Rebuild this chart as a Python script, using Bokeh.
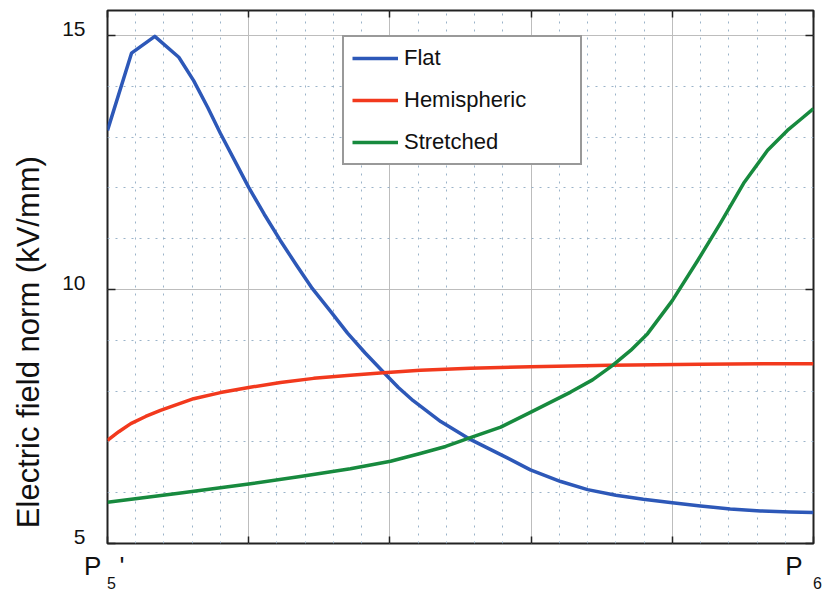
from bokeh.plotting import figure
from bokeh.models import (Range1d, FixedTicker, LinearAxis, Legend, LegendItem)
from bokeh.embed import file_html
from bokeh.resources import INLINE

# ---- data (x: fraction of the path from P5' to P6) ----
flat_x = [0.000, 0.034, 0.067, 0.101, 0.122, 0.142, 0.160, 0.180, 0.200, 0.222,
          0.245, 0.268, 0.290, 0.316, 0.340, 0.365, 0.391, 0.412, 0.433, 0.472,
          0.511, 0.557, 0.599, 0.642, 0.680, 0.720, 0.759, 0.800, 0.840, 0.882,
          0.925, 0.967, 1.000]
flat_y = [13.13, 14.65, 14.98, 14.57, 14.11, 13.58, 13.07, 12.54, 12.01, 11.48,
          10.96, 10.47, 10.02, 9.57, 9.14, 8.75, 8.37, 8.07, 7.81, 7.40,
          7.07, 6.75, 6.45, 6.22, 6.06, 5.95, 5.87, 5.80, 5.74, 5.68,
          5.64, 5.62, 5.61]

hemi_x = [0.000, 0.016, 0.033, 0.054, 0.075, 0.122, 0.160, 0.200, 0.245, 0.292,
          0.344, 0.391, 0.443, 0.514, 0.599, 0.712, 0.840, 1.000]
hemi_y = [7.03, 7.20, 7.36, 7.50, 7.62, 7.85, 7.97, 8.07, 8.17, 8.25,
          8.31, 8.36, 8.41, 8.45, 8.48, 8.51, 8.53, 8.54]

str_x = [0.000, 0.101, 0.200, 0.273, 0.344, 0.401, 0.443, 0.479, 0.511, 0.557,
         0.599, 0.656, 0.687, 0.715, 0.741, 0.765, 0.800, 0.836, 0.868, 0.901,
         0.935, 0.963, 0.982, 1.000]
str_y = [5.81, 5.99, 6.17, 6.32, 6.47, 6.62, 6.77, 6.91, 7.07, 7.29,
         7.58, 7.98, 8.22, 8.50, 8.80, 9.13, 9.78, 10.57, 11.30, 12.09,
         12.74, 13.13, 13.35, 13.56]

series_names = ["Flat", "Hemispheric", "Stretched"]
series_colors = ["#2D58B8", "#F2391D", "#178A3E"]

y_major = [5, 10, 15]
y_minor = [6, 7, 8, 9, 11, 12, 13, 14]
x_major = [0.0, 0.2, 0.4, 0.6, 0.8, 1.0]
x_minor = [i * 0.04 for i in range(26)]
x_end_labels = {0.0: "P\u2002\u2009'\u2005", 1.0: "P" + "\u2009" * 4}
x_end_subs = {0.0: "\u20025", 1.0: "\u20026"}
# trailing spaces push the (rotated) title down, as in the reference
y_title = "Electric field norm (kV/mm)" + "\u2002" * 8 + "\u2009"

FONT = "Liberation Sans"
TXT = "#111111"
TICK = "#222222"

p = figure(width=823, height=595, output_backend="svg", toolbar_location=None,
           x_range=Range1d(0, 1), y_range=Range1d(5, 15.49),
           min_border_left=107, min_border_right=10, min_border_top=10,
           min_border_bottom=52)
p.background_fill_color = "white"
p.border_fill_color = "white"
p.outline_line_color = "#222222"
p.outline_line_width = 2

# shifted range so that the y tick labels sit slightly above their ticks
p.extra_y_ranges = {"lab": Range1d(5 - 0.12, 15.49 - 0.12)}

xt = FixedTicker(ticks=x_major, minor_ticks=x_minor)
yt = FixedTicker(ticks=y_major, minor_ticks=y_minor)
end_t = FixedTicker(ticks=[x_major[0], x_major[-1]], minor_ticks=[])


def ticks_only(ax, ticker, values):
    ax.ticker = ticker
    ax.major_label_overrides = {v: "" for v in values}
    ax.major_label_standoff = 0
    ax.axis_line_color = None
    ax.major_tick_in = 7
    ax.major_tick_out = 0
    ax.major_tick_line_color = TICK
    ax.major_tick_line_width = 1.5
    ax.minor_tick_line_color = None


# bottom axis: inward ticks + "P" end labels
xa = p.xaxis[0]
ticks_only(xa, xt, x_major)
xa.major_label_overrides = {v: x_end_labels.get(v, "") for v in x_major}
xa.major_label_text_font = FONT
xa.major_label_text_font_size = "26px"
xa.major_label_text_color = TXT
xa.major_label_standoff = 3

# second bottom axis: subscripts
xs = LinearAxis(ticker=end_t, major_label_overrides=x_end_subs,
                major_label_text_font=FONT, major_label_text_font_size="16px",
                major_label_text_color=TXT, major_label_standoff=-15,
                axis_line_color=None, major_tick_line_color=None,
                minor_tick_line_color=None)
p.add_layout(xs, "below")

# left axis: ticks only
ticks_only(p.yaxis[0], yt, y_major)
p.yaxis[0].major_tick_in = 8

# left axis with the tick numbers
yl = LinearAxis(y_range_name="lab", ticker=FixedTicker(ticks=y_major, minor_ticks=[]),
                major_label_text_font=FONT, major_label_text_font_size="21px",
                major_label_text_color=TXT, major_label_standoff=12,
                axis_line_color=None, major_tick_line_color=None,
                minor_tick_line_color=None)
p.add_layout(yl, "left")

# left axis carrying the title
yt_title = LinearAxis(ticker=FixedTicker(ticks=[], minor_ticks=[]),
                      axis_label=y_title, axis_label_text_font=FONT,
                      axis_label_text_font_size="31px",
                      axis_label_text_font_style="normal",
                      axis_label_text_color=TXT, axis_label_standoff=14,
                      major_label_standoff=0,
                      axis_line_color=None, major_tick_line_color=None,
                      minor_tick_line_color=None)
p.add_layout(yt_title, "left")

# top & right axes (ticks only)
ax_top = LinearAxis()
ticks_only(ax_top, xt, x_major)
p.add_layout(ax_top, "above")
ax_right = LinearAxis()
ticks_only(ax_right, yt, y_major)
ax_right.major_tick_in = 8
p.add_layout(ax_right, "right")

# grids
for g, tk in ((p.xgrid[0], xt), (p.ygrid[0], yt)):
    g.ticker = tk
    g.grid_line_color = "#BDBDBD"
    g.grid_line_width = 1
    g.minor_grid_line_color = "#9AB3C9"
    g.minor_grid_line_width = 1
    g.minor_grid_line_dash = "2 6"

r_flat = p.line(flat_x, flat_y, line_color=series_colors[0], line_width=3.5,
                line_join="round")
r_hemi = p.line(hemi_x, hemi_y, line_color=series_colors[1], line_width=3.5,
                line_join="round")
r_str = p.line(str_x, str_y, line_color=series_colors[2], line_width=3.5,
               line_join="round")

legend = Legend(items=[LegendItem(label=series_names[0], renderers=[r_flat]),
                       LegendItem(label=series_names[1], renderers=[r_hemi]),
                       LegendItem(label=series_names[2], renderers=[r_str])],
                location=(235, 378), orientation="vertical",
                border_line_color="#333333", border_line_width=2,
                background_fill_color="white", background_fill_alpha=1,
                label_text_font=FONT, label_text_font_size="22px",
                label_text_color=TXT,
                glyph_width=46, glyph_height=26, label_height=26, spacing=16,
                padding=8, label_standoff=6, label_width=168, margin=0)
p.add_layout(legend)

open("out.html", "w").write(file_html(p, INLINE))
